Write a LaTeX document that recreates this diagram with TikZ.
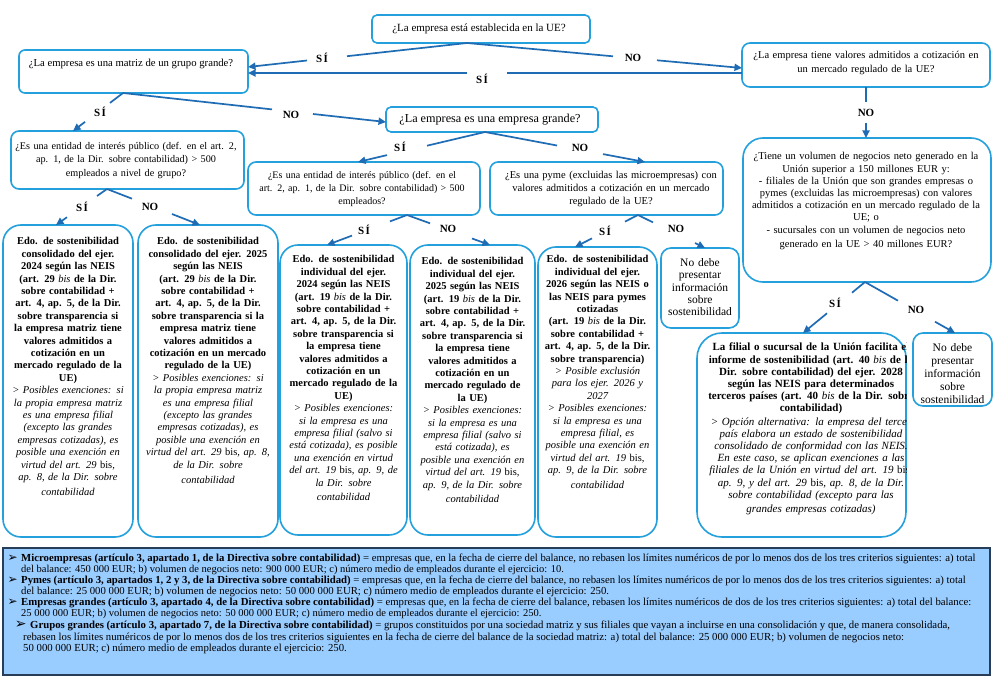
\documentclass[tikz,border=0pt]{standalone}
\usepackage{fontspec}
\setmainfont{Liberation Serif}
\newfontfamily\dejavu{DejaVu Sans}
\usetikzlibrary{arrows.meta}
\definecolor{bxc}{RGB}{36,160,220}
\definecolor{arc}{RGB}{31,108,180}
\definecolor{lgfill}{RGB}{153,204,255}
\definecolor{lgline}{RGB}{40,62,88}
\newcommand{\mkbox}[7]{\node[#6, rounded corners=#7, minimum width={(#4-#2)*1pt}, minimum height={(#5-#3)*1pt}] (#1) at ({(#2+#4)/2},{(#3+#5)/2}) {};}
\newcommand{\bisb}{{\mdseries\itshape bis}}
\newcommand{\bisu}{{\upshape bis}}
\newcommand{\fs}[2]{\fontsize{#1}{#2}\selectfont}
\newcommand{\lgb}{\llap{{\dejavu\fs{12}{12}➢}\hspace{3.5pt}}}
\begin{document}
\begin{tikzpicture}[x=1pt,y=-1pt,
  bx/.style={draw=bxc, line width=1.6pt, inner sep=0pt, outer sep=0pt, fill=white},
  lgbox/.style={draw=lgline, line width=1.4pt, fill=lgfill, inner sep=0pt, outer sep=0pt},
  conn/.style={draw=arc, line width=1.7pt},
  arr/.style={-{Triangle[length=7.5pt,width=7pt]}},
  lbl/.style={font=\bfseries\fs{11}{12}, inner sep=0pt},
  qt/.style={font=\fs{10.5}{12.5}, align=center, text width=260pt, inner sep=0pt, anchor=north},
  qs/.style={font=\fs{10.5}{12}, inner sep=0pt},
  lt/.style={font=\fs{10.5}{12.4}, align=center, text width=#1, inner sep=0pt, anchor=north},
  lt/.default=170pt,
  lg/.style={font=\fs{10.75}{11.3}, inner sep=0pt, anchor=base west}
]
\useasboundingbox (0,0) rectangle (994,679);
\fill[white] (0,0) rectangle (994,679);

% boxes
\mkbox{top}{372}{15}{590}{43}{bx}{5pt}
\mkbox{matriz}{19}{50}{248}{93}{bx}{6pt}
\mkbox{tv}{742}{43}{990}{87}{bx}{8pt}
\mkbox{grande}{386}{107}{598}{132}{bx}{5pt}
\mkbox{eipg}{11}{131}{244}{189}{bx}{8pt}
\mkbox{eipi}{248}{162}{480}{215}{bx}{8pt}
\mkbox{pyme}{490}{162}{723}{215}{bx}{8pt}
\mkbox{vol}{743}{138}{991}{282}{bx}{20pt}
\mkbox{leafA}{3}{225}{133}{537}{bx}{18pt}
\mkbox{leafB}{138}{225}{278}{537}{bx}{18pt}
\mkbox{leafC}{280}{245}{407}{535}{bx}{18pt}
\mkbox{leafD}{410}{245}{535}{535}{bx}{18pt}
\mkbox{leafE}{538}{247}{657}{537}{bx}{18pt}
\mkbox{nodebe1}{661}{248}{739}{328}{bx}{10pt}
\mkbox{filial}{697}{333}{906}{537}{bx}{25pt}
\mkbox{nodebe2}{913}{333}{992}{406}{bx}{10pt}
\mkbox{legend}{3}{548}{990}{675}{lgbox}{0pt}

% question texts
\node[qs, font=\fs{11}{12}] (top-t) at (479,29) {¿La empresa está establecida en la UE?};
\node[qs, font=\fs{10.7}{12}] (matriz-t) at (131,64) {¿La empresa es una matriz de un grupo grande?};
\node[qs, font=\fs{12.2}{13}] (grande-t) at (490,120) {¿La empresa es una empresa grande?};
\node[qt] (tv-t) at (866,51.5) {¿La empresa tiene valores admitidos a cotización en\\[1.5pt]un mercado regulado de la UE?};
\node[qt, font=\fs{10.2}{12.5}] (eipg-t) at (126,142.5) {¿Es una entidad de interés público (def. en el art. 2,\\ap. 1, de la Dir. sobre contabilidad) > 500\\[1.5pt]empleados a nivel de grupo?};
\node[qt, font=\fs{10}{12.5}] (eipi-t) at (362,171.5) {¿Es una entidad de interés público (def. en el\\art. 2, ap. 1, de la Dir. sobre contabilidad) > 500\\[1pt]empleados?};
\node[qt] (pyme-t) at (611,171.5) {¿Es una pyme (excluidas las microempresas) con\\valores admitidos a cotización en un mercado\\[1pt]regulado de la UE?};
\node[qt, font=\fs{10.5}{12.2}] (vol-t) at (866,152.5) {¿Tiene un volumen de negocios neto generado en la\\Unión superior a 150 millones EUR y:\\- filiales de la Unión que son grandes empresas o\\pymes (excluidas las microempresas) con valores\\admitidos a cotización en un mercado regulado de la\\UE; o\\- sucursales con un volumen de negocios neto\\[2pt]generado en la UE > 40 millones EUR?};
\node[lt=78pt, font=\fs{11.5}{12.3}] (nodebe1-t) at (700,258.5) {No debe\\presentar\\información\\sobre\\sostenibilidad};
\node[lt=79pt, font=\fs{11.5}{13}] (nodebe2-t) at (952.5,343.5) {No debe\\presentar\\información\\sobre\\sostenibilidad};

% leaf texts
\node[lt] (leafA-t) at (68,237.5) {\bfseries Edo. de sostenibilidad\\consolidado del ejer.\\2024 según las NEIS\\(art. 29 \bisb\ de la Dir.\\sobre contabilidad +\\art. 4, ap. 5, de la Dir.\\sobre transparencia si\\la empresa matriz tiene\\valores admitidos a\\cotización en un\\mercado regulado de la\\UE)\\\mdseries\itshape > Posibles exenciones: si\\la propia empresa matriz\\es una empresa filial\\(excepto las grandes\\empresas cotizadas), es\\posible una exención en\\virtud del art. 29 \bisu,\\ap. 8, de la Dir. sobre\\[2.5pt]contabilidad};
\node[lt] (leafB-t) at (208,237.5) {\bfseries Edo. de sostenibilidad\\consolidado del ejer. 2025\\según las NEIS\\(art. 29 \bisb\ de la Dir.\\sobre contabilidad +\\art. 4, ap. 5, de la Dir.\\sobre transparencia si la\\empresa matriz tiene\\valores admitidos a\\cotización en un mercado\\regulado de la UE)\\\mdseries\itshape > Posibles exenciones: si\\la propia empresa matriz\\es una empresa filial\\(excepto las grandes\\empresas cotizadas), es\\posible una exención en\\virtud del art. 29 \bisu, ap. 8,\\de la Dir. sobre\\[3pt]contabilidad};
\node[lt] (leafC-t) at (343.5,255.5) {\bfseries Edo. de sostenibilidad\\individual del ejer.\\2024 según las NEIS\\(art. 19 \bisb\ de la Dir.\\sobre contabilidad +\\art. 4, ap. 5, de la Dir.\\sobre transparencia si\\la empresa tiene\\valores admitidos a\\cotización en un\\mercado regulado de la\\UE)\\\mdseries\itshape > Posibles exenciones:\\si la empresa es una\\empresa filial (salvo si\\está cotizada), es posible\\una exención en virtud\\del art. 19 \bisu, ap. 9, de\\la Dir. sobre\\[2pt]contabilidad};
\node[lt] (leafD-t) at (472.5,257.5) {\bfseries Edo. de sostenibilidad\\individual del ejer.\\2025 según las NEIS\\(art. 19 \bisb\ de la Dir.\\sobre contabilidad +\\art. 4, ap. 5, de la Dir.\\sobre transparencia si\\la empresa tiene\\valores admitidos a\\cotización en un\\mercado regulado de\\la UE)\\\mdseries\itshape > Posibles exenciones:\\si la empresa es una\\empresa filial (salvo si\\está cotizada), es\\posible una exención en\\virtud del art. 19 \bisu,\\ap. 9, de la Dir. sobre\\[2pt]contabilidad};
\node[lt] (leafE-t) at (597.5,255.5) {\bfseries Edo. de sostenibilidad\\individual del ejer.\\2026 según las NEIS o\\las NEIS para pymes\\cotizadas\\(art. 19 \bisb\ de la Dir.\\sobre contabilidad +\\art. 4, ap. 5, de la Dir.\\sobre transparencia)\\\mdseries\itshape > Posible exclusión\\para los ejer. 2026 y\\2027\\> Posibles exenciones:\\si la empresa es una\\empresa filial, es\\posible una exención en\\virtud del art. 19 \bisu,\\ap. 9, de la Dir. sobre\\[2pt]contabilidad};
\begin{scope}
\clip (697,333) rectangle (906,537);
\node[lt=240pt, font=\fs{11}{12.1}] (filial-t) at (811,343) {\bfseries La filial o sucursal de la Unión facilita el\\informe de sostenibilidad (art. 40 \bisb\ de la\\Dir. sobre contabilidad) del ejer. 2028\\según las NEIS para determinados\\terceros países (art. 40 \bisb\ de la Dir. sobre\\contabilidad)\\[2pt]\mdseries\itshape > Opción alternativa: la empresa del tercer\\país elabora un estado de sostenibilidad\\consolidado de conformidad con las NEIS.\\En este caso, se aplican exenciones a las\\filiales de la Unión en virtud del art. 19 \bisu,\\ap. 9, y del art. 29 \bisu, ap. 8, de la Dir.\\sobre contabilidad (excepto para las\\[2pt]grandes empresas cotizadas)};
\end{scope}

% gap coordinates
\coordinate (g1a) at (347,56.2);  \coordinate (g1b) at (307,60.5);
\coordinate (g2a) at (613,56.3);  \coordinate (g2b) at (657,60.3);
\coordinate (g3a) at (507,73);    \coordinate (g3b) at (467,73);
\coordinate (g4a) at (110,102.9); \coordinate (g4b) at (85,121.9);
\coordinate (g5a) at (272,109.4); \coordinate (g5b) at (313,114);
\coordinate (g6a) at (427,145.7); \coordinate (g6b) at (387,155.1);
\coordinate (g7a) at (557,145.5); \coordinate (g7b) at (603,154.1);
\coordinate (g8a) at (866,102);   \coordinate (g8b) at (866,123);
\coordinate (g9a) at (97,196);    \coordinate (g9b) at (67,217.2);
\coordinate (g10a) at (132,198.7);\coordinate (g10b) at (172,214);
\coordinate (g11a) at (390,221.4);\coordinate (g11b) at (352,235.6);
\coordinate (g12a) at (430,223.3);\coordinate (g12b) at (472,238.5);
\coordinate (g13a) at (625,221.6);\coordinate (g13b) at (592,238.4);
\coordinate (g14a) at (653,222.4);\coordinate (g14b) at (695,243);
\coordinate (g15a) at (852,292.7);\coordinate (g15b) at (827,313.3);
\coordinate (g16a) at (898,300.7);\coordinate (g16b) at (935,321.7);

% connectors
\draw[conn] ([xshift=-14pt]top.south) -- (g1a);
\draw[conn,arr] (g1b) -- ([yshift=4.5pt]matriz.east);
\draw[conn] ([xshift=-14pt]top.south) -- (g2a);
\draw[conn,arr] (g2b) -- ([yshift=-3pt]tv.west);
\draw[conn] ([yshift=-8pt]tv.west) -- (g3a);
\draw[conn,arr] (g3b) -- ([yshift=-1.5pt]matriz.east);
\draw[conn] ([xshift=-10.5pt]matriz.south) -- (g4a);
\draw[conn,arr] (g4b) -- ([xshift=-54.5pt]eipg.north);
\draw[conn] ([xshift=-10.5pt]matriz.south) -- (g5a);
\draw[conn,arr] (g5b) -- ([yshift=-2.5pt]grande.west);
\draw[conn] ([xshift=-7pt]grande.south) -- (g6a);
\draw[conn,arr] (g6b) -- ([xshift=-6pt]eipi.north);
\draw[conn] ([xshift=-7pt]grande.south) -- (g7a);
\draw[conn,arr] (g7b) -- ([xshift=38.5pt]pyme.north);
\draw[conn] (tv.south) -- (g8a);
\draw[conn,arr] (g8b) -- ([xshift=-1pt]vol.north);
\draw[conn] ([xshift=-20.5pt]eipg.south) -- (g9a);
\draw[conn,arr] (g9b) -- ([xshift=-12pt]leafA.north);
\draw[conn] ([xshift=-20.5pt]eipg.south) -- (g10a);
\draw[conn,arr] (g10b) -- ([xshift=-8pt]leafB.north);
\draw[conn] ([xshift=43pt]eipi.south) -- (g11a);
\draw[conn,arr] (g11b) -- ([xshift=-16.5pt]leafC.north);
\draw[conn] ([xshift=43pt]eipi.south) -- (g12a);
\draw[conn,arr] (g12b) -- ([xshift=17.5pt]leafD.north);
\draw[conn] ([xshift=31.5pt]pyme.south) -- (g13a);
\draw[conn,arr] (g13b) -- ([xshift=-22.5pt]leafE.north);
\draw[conn] ([xshift=31.5pt]pyme.south) -- (g14a);
\draw[conn,arr] (g14b) -- ([xshift=5pt]nodebe1.north);
\draw[conn] ([xshift=-2pt]vol.south) -- (g15a);
\draw[conn,arr] (g15b) -- ([xshift=1.5pt]filial.north);
\draw[conn] ([xshift=-2pt]vol.south) -- (g16a);
\draw[conn,arr] (g16b) -- ([xshift=2.5pt]nodebe2.north);

% labels
\node[lbl] (l1) at (322,58) {S\kern1.5pt Í};
\node[lbl] (l2) at (633,58) {NO};
\node[lbl] (l3) at (482,79) {S\kern1.5pt Í};
\node[lbl] (l4) at (100,112) {S\kern1.5pt Í};
\node[lbl] (l5) at (291,115) {NO};
\node[lbl] (l6) at (400,147) {S\kern1.5pt Í};
\node[lbl] (l7) at (580,148) {NO};
\node[lbl] (l8) at (866,113) {NO};
\node[lbl] (l9) at (82,207) {S\kern1.5pt Í};
\node[lbl] (l10) at (150,207) {NO};
\node[lbl] (l11) at (364,230) {S\kern1.5pt Í};
\node[lbl] (l12) at (448,229) {NO};
\node[lbl] (l13) at (605,231) {S\kern1.5pt Í};
\node[lbl] (l14) at (676,229) {NO};
\node[lbl] (l15) at (835,303) {S\kern1.5pt Í};
\node[lbl] (l16) at (916,310) {NO};

% legend
\node[lg] (lg1) at (21,561.5) {\lgb\textbf{Microempresas (artículo 3, apartado 1, de la Directiva sobre contabilidad)} = empresas que, en la fecha de cierre del balance, no rebasen los límites numéricos de por lo menos dos de los tres criterios siguientes: a) total};
\node[lg, font=\fs{10.5}{11.3}] (lg2) at (21,572.5) {del balance: 450 000 EUR; b) volumen de negocios neto: 900 000 EUR; c) número medio de empleados durante el ejercicio: 10.};
\node[lg] (lg3) at (21,583) {\lgb\textbf{Pymes (artículo 3, apartados 1, 2 y 3, de la Directiva sobre contabilidad)} = empresas que, en la fecha de cierre del balance, no rebasen los límites numéricos de por lo menos dos de los tres criterios siguientes: a) total};
\node[lg] (lg4) at (21,594) {del balance: 25 000 000 EUR; b) volumen de negocios neto: 50 000 000 EUR; c) número medio de empleados durante el ejercicio: 250.};
\node[lg] (lg5) at (21,605) {\lgb\textbf{Empresas grandes (artículo 3, apartado 4, de la Directiva sobre contabilidad)} = empresas que, en la fecha de cierre del balance, rebasen los límites numéricos de dos de los tres criterios siguientes: a) total del balance:};
\node[lg, font=\fs{10.5}{11.3}] (lg6) at (21,616) {25 000 000 EUR; b) volumen de negocios neto: 50 000 000 EUR; c) número medio de empleados durante el ejercicio: 250.};
\node[lg] (lg7) at (30,628) {\llap{{\dejavu\fs{14}{14}➢}\hspace{3.5pt}}\textbf{Grupos grandes (artículo 3, apartado 7, de la Directiva sobre contabilidad)} = grupos constituidos por una sociedad matriz y sus filiales que vayan a incluirse en una consolidación y que, de manera consolidada,};
\node[lg] (lg8) at (23,640) {rebasen los límites numéricos de por lo menos dos de los tres criterios siguientes en la fecha de cierre del balance de la sociedad matriz: a) total del balance: 25 000 000 EUR; b) volumen de negocios neto:};
\node[lg] (lg9) at (23,651.5) {50 000 000 EUR; c) número medio de empleados durante el ejercicio: 250.};
\end{tikzpicture}
\end{document}
